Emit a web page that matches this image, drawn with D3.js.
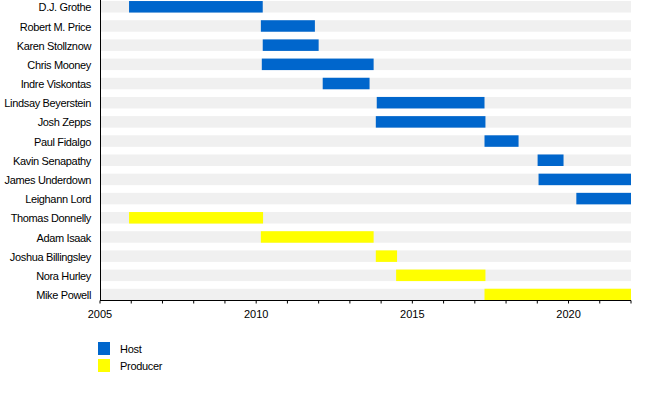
<!DOCTYPE html>
<html>
<head>
<meta charset="utf-8">
<script src="https://cdn.jsdelivr.net/npm/d3@7"></script>
<style>
  body { margin: 0; background: #fff; }
  svg { display: block; font-family: "Liberation Sans", Arial, sans-serif; }
</style>
</head>
<body>
<svg id="chart" width="650" height="400"></svg>
<script>
// people, top to bottom
var names = ['D.J. Grothe', 'Robert M. Price', 'Karen Stollznow', 'Chris Mooney', 'Indre Viskontas',
  'Lindsay Beyerstein', 'Josh Zepps', 'Paul Fidalgo', 'Kavin Senapathy', 'James Underdown',
  'Leighann Lord', 'Thomas Donnelly', 'Adam Isaak', 'Joshua Billingsley', 'Nora Hurley', 'Mike Powell'];
var roles = ['Host', 'Host', 'Host', 'Host', 'Host', 'Host', 'Host', 'Host', 'Host', 'Host', 'Host',
  'Producer', 'Producer', 'Producer', 'Producer', 'Producer'];
var starts = [2005.93, 2010.15, 2010.21, 2010.18, 2012.13, 2013.86, 2013.83, 2017.31, 2019.01, 2019.04,
  2020.25, 2005.93, 2010.15, 2013.83, 2014.48, 2017.31];
var ends = [2010.21, 2011.88, 2012.0, 2013.76, 2013.63, 2017.31, 2017.34, 2018.4, 2019.84, 2022,
  2022, 2010.22, 2013.76, 2014.51, 2017.34, 2022];
var roleNames = ['Host', 'Producer'];
var roleColors = ['#0066cc', '#ffff00'];
var majorTicks = [2005, 2010, 2015, 2020];

var svg = d3.select('#chart');
var x = d3.scaleLinear().domain([2005, 2022]).range([100, 631]);
var y = d3.scaleBand().domain(names).range([-2.8, 304.1]).paddingInner(0.4).paddingOuter(0.2);
var color = d3.scaleOrdinal().domain(roleNames).range(roleColors);

var rows = names.map(function(n, i) {
  return {name: n, role: roles[i], start: starts[i], end: ends[i]};
});

// grey background band per row
svg.selectAll('.bg').data(rows).enter().append('rect')
   .attr('class', 'bg')
   .attr('x', x(2005))
   .attr('y', function(d) { return y(d.name); })
   .attr('width', x(2022) - x(2005))
   .attr('height', y.bandwidth())
   .attr('fill', '#f0f0f0');

svg.selectAll('.bar').data(rows).enter().append('rect')
   .attr('class', 'bar')
   .attr('x', function(d) { return x(d.start); })
   .attr('y', function(d) { return y(d.name); })
   .attr('width', function(d) { return x(d.end) - x(d.start); })
   .attr('height', y.bandwidth())
   .attr('fill', function(d) { return color(d.role); });

svg.selectAll('.name').data(rows).enter().append('text')
   .attr('class', 'name')
   .attr('x', 91)
   .attr('y', function(d) { return y(d.name) + y.bandwidth() / 2; })
   .attr('dy', '0.42em')
   .attr('text-anchor', 'end')
   .attr('font-size', 11)
   .attr('letter-spacing', -0.35)
   .text(function(d) { return d.name; });

// y axis line
svg.append('line')
   .attr('x1', 100.5).attr('x2', 100.5)
   .attr('y1', 0).attr('y2', 300.5)
   .attr('stroke', '#000');

// x axis with yearly minor ticks
var xAxis = svg.append('g').attr('transform', 'translate(0,300.5)');
xAxis.append('line')
     .attr('x1', x(2005)).attr('x2', x(2022))
     .attr('stroke', '#000');
xAxis.selectAll('.minor').data(d3.range(2005, 2023)).enter().append('line')
     .attr('x1', function(d) { return x(d); })
     .attr('x2', function(d) { return x(d); })
     .attr('y1', 0).attr('y2', 3)
     .attr('stroke', '#000');
xAxis.selectAll('.major').data(majorTicks).enter().append('text')
     .attr('x', function(d) { return x(d); })
     .attr('y', 14)
     .attr('dy', '0.35em')
     .attr('text-anchor', 'middle')
     .attr('font-size', 11)
     .text(function(d) { return d; });

// legend
var legend = svg.selectAll('.legend').data(roleNames).enter().append('g')
   .attr('class', 'legend')
   .attr('transform', function(d, i) { return 'translate(98,' + (342 + i * 17) + ')'; });
legend.append('rect')
      .attr('width', 12).attr('height', 13)
      .attr('fill', function(d) { return color(d); });
legend.append('text')
      .attr('x', 22).attr('y', 7)
      .attr('dy', '0.35em')
      .attr('font-size', 11)
      .attr('letter-spacing', -0.3)
      .text(function(d) { return d; });
</script>
</body>
</html>
